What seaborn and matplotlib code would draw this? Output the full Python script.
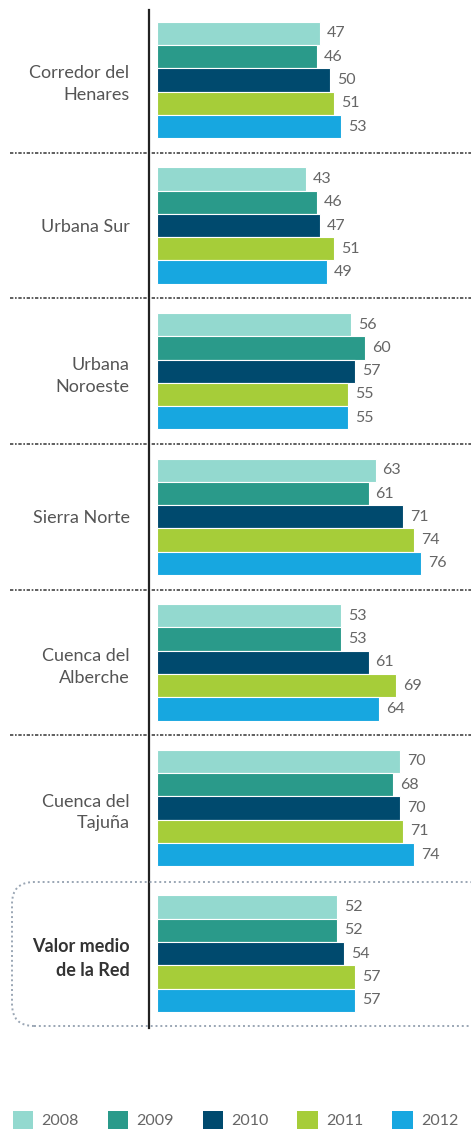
import numpy as np
import pandas as pd
import matplotlib.pyplot as plt
import seaborn as sns
from matplotlib.patches import Patch, FancyBboxPatch
from matplotlib.transforms import IdentityTransform

# Data
regions = ["Corredor del\nHenares", "Urbana Sur", "Urbana\nNoroeste", "Sierra Norte",
           "Cuenca del\nAlberche", "Cuenca del\nTajuña", "Valor medio\nde la Red"]
years = ["2008", "2009", "2010", "2011", "2012"]
v2008 = [47, 43, 56, 63, 53, 70, 52]
v2009 = [46, 46, 60, 61, 53, 68, 52]
v2010 = [50, 47, 57, 71, 61, 70, 54]
v2011 = [51, 51, 55, 74, 69, 71, 57]
v2012 = [53, 49, 55, 76, 64, 74, 57]
colors = ["#93d9cf", "#2a9a8a", "#004a6e", "#a6cd39", "#17a7e0"]

series = [v2008, v2009, v2010, v2011, v2012]
df = pd.DataFrame({
    "region": regions * len(years),
    "year": np.repeat(years, len(regions)),
    "value": np.concatenate(series),
})

sns.set_style("white")
plt.rcParams['font.family'] = ['Lato', 'DejaVu Sans']

W, H = 471, 1131
fig = plt.figure(figsize=(W / 100, H / 100), dpi=100)
ax = fig.add_axes([149 / W, (H - 1028) / H, (W - 149) / W, (1028 - 10) / H])

sns.barplot(data=df, x="value", y="region", hue="year", palette=colors,
            orient="h", width=0.8, saturation=1, edgecolor="white", linewidth=0.8,
            ax=ax, legend=False)

# Value labels at bar ends
for cont in ax.containers:
    ax.bar_label(cont, padding=5, fontsize=11.5, color="#666666")

ax.set_xlim(-2.3, 90.5)
ax.set_ylim(6.51, -0.48)
ax.set_xlabel("")
ax.set_ylabel("")
ax.set_xticks([])
for s in ["top", "right", "bottom"]:
    ax.spines[s].set_visible(False)
ax.spines["left"].set_color("#222222")
ax.spines["left"].set_linewidth(1.6)
ax.tick_params(axis="y", length=0, pad=14)
for lbl in ax.get_yticklabels():
    lbl.set_fontsize(13)
    lbl.set_color("#555555")
    lbl.set_linespacing(1.45)
ax.get_yticklabels()[-1].set_fontweight("bold")
ax.get_yticklabels()[-1].set_color("#333333")

# Dotted separators between groups
left_frac = (10 - 149) / (W - 149)
for i in range(len(regions) - 2):
    ax.axhline(i + 0.5, xmin=left_frac, xmax=1, clip_on=False, color="#444444",
               linewidth=1.2, linestyle=(0, (2, 1, 1, 1)))

# Rounded dotted box around the network average
box = FancyBboxPatch((12, H - 1026), 480, 144, boxstyle="round,pad=0,rounding_size=22",
                     transform=IdentityTransform(), fill=False, edgecolor="#9aa6b4",
                     linewidth=1.4, linestyle=(0, (1, 1.5)))
fig.add_artist(box)

# Legend
handles = [Patch(facecolor=c, edgecolor="none") for c in colors]
fig.legend(handles, years, loc="center", bbox_to_anchor=(0.5, 11 / H), ncol=5,
           frameon=False, fontsize=11.5, labelcolor="#666666", handlelength=1.3,
           handleheight=1.3, handletextpad=0.5, columnspacing=1.8)

fig.savefig("out.png", dpi=100)
